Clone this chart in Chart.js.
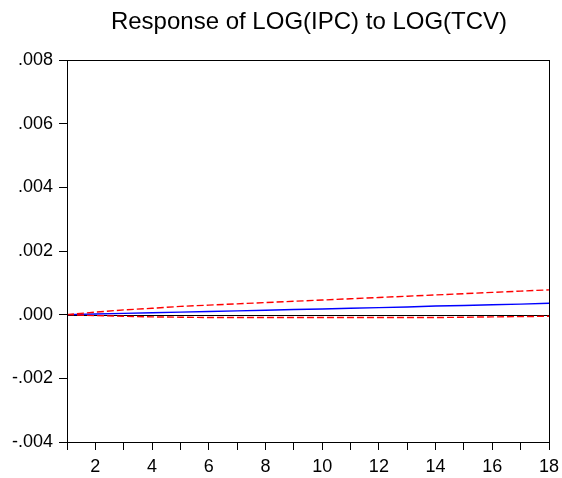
<!DOCTYPE html>
<html>
<head>
<meta charset="utf-8">
<script src="https://cdn.jsdelivr.net/npm/chart.js@4/dist/chart.umd.min.js"></script>
<style>
html,body{margin:0;padding:0;background:#fff;}
#wrap{width:562px;height:478px;}
</style>
</head>
<body>
<div id="wrap"><canvas id="c" width="562" height="478"></canvas></div>
<script>
const chartTitle = 'Response of LOG(IPC) to LOG(TCV)';
const periods = ['1','2','3','4','5','6','7','8','9','10','11','12','13','14','15','16','17','18'];
const response = [0, 0.00002, 0.00004, 0.00006, 0.00008, 0.00010, 0.00012, 0.00014, 0.00016, 0.00018, 0.00020, 0.00022, 0.00024, 0.00027, 0.00029, 0.00031, 0.00033, 0.00036];
const upperBand = [0, 0.00008, 0.00015, 0.00020, 0.00026, 0.00030, 0.00034, 0.00038, 0.00042, 0.00046, 0.00050, 0.00054, 0.00058, 0.00062, 0.00066, 0.00070, 0.00074, 0.00078];
const lowerBand = [0, -0.00003, -0.00005, -0.00007, -0.00008, -0.00009, -0.00009, -0.00009, -0.00009, -0.00009, -0.00009, -0.00009, -0.00009, -0.00009, -0.00008, -0.00007, -0.00006, -0.00005];
const yTickValues = [-0.004, -0.002, 0, 0.002, 0.004, 0.006, 0.008];

const FONT = 'Liberation Sans, Arial, Helvetica, sans-serif';

const framePlugin = {
  id: 'frame',
  beforeDatasetsDraw(chart) {
    const {ctx, chartArea: a, scales} = chart;
    const y0 = scales.y.getPixelForValue(0);
    ctx.save();
    ctx.strokeStyle = '#000';
    ctx.lineWidth = 1;
    ctx.beginPath();
    ctx.moveTo(a.left, Math.round(y0) + 0.5);
    ctx.lineTo(a.right, Math.round(y0) + 0.5);
    ctx.stroke();
    ctx.restore();
  },
  afterDatasetsDraw(chart) {
    const {ctx, chartArea: a} = chart;
    ctx.save();
    ctx.strokeStyle = '#000';
    ctx.lineWidth = 1;
    ctx.strokeRect(Math.round(a.left) + 0.5, Math.round(a.top) + 0.5, Math.round(a.right - a.left), Math.round(a.bottom - a.top));
    ctx.restore();
  },
  afterDraw(chart) {
    const {ctx, chartArea: a} = chart;
    ctx.save();
    ctx.fillStyle = '#000';
    ctx.font = '24px ' + FONT;
    ctx.textAlign = 'center';
    ctx.textBaseline = 'alphabetic';
    ctx.fillText(chartTitle, (a.left + a.right) / 2 + 1, 29);
    ctx.restore();
  }
};

new Chart(document.getElementById('c'), {
  type: 'line',
  data: {
    labels: periods,
    datasets: [
      {data: upperBand, borderColor: '#FF0000', borderWidth: 1.4, borderDash: [7, 3], pointRadius: 0, fill: false, tension: 0},
      {data: lowerBand, borderColor: '#FF0000', borderWidth: 1.4, borderDash: [7, 3], pointRadius: 0, fill: false, tension: 0},
      {data: response, borderColor: '#0000FF', borderWidth: 1.4, pointRadius: 0, fill: false, tension: 0}
    ]
  },
  options: {
    responsive: false,
    animation: false,
    devicePixelRatio: 1,
    layout: {padding: {top: 60, right: 13, left: 0, bottom: 0}},
    plugins: {legend: {display: false}, title: {display: false}, tooltip: {enabled: false}},
    scales: {
      x: {
        type: 'category',
        offset: false,
        grid: {display: true, drawOnChartArea: false, drawTicks: true, tickLength: 8, color: '#000', lineWidth: 1},
        border: {display: true, color: '#000', width: 1},
        ticks: {
          autoSkip: false, maxRotation: 0, color: '#000', padding: 6,
          font: {family: FONT, size: 18},
          callback: function(v, i) { const l = periods[i]; return (Number(l) % 2 === 0) ? l : ''; }
        },
        afterFit(s) { s.height = 36; s.paddingLeft = 0; s.paddingRight = 0; }
      },
      y: {
        min: -0.004, max: 0.008,
        grid: {display: true, drawOnChartArea: false, drawTicks: true, tickLength: 8, color: '#000', lineWidth: 1},
        border: {display: true, color: '#000', width: 1},
        afterBuildTicks(s) { s.ticks = yTickValues.map(v => ({value: v})); },
        ticks: {
          color: '#000', padding: 6,
          font: {family: FONT, size: 18},
          callback: function(v) {
            const r = Math.round(v * 1000) / 1000;
            let s = Math.abs(r).toFixed(3).replace(/^0/, '');
            return (r < 0 ? '-' : '') + s;
          }
        },
        afterFit(s) { s.width = 67; s.paddingTop = 0; s.paddingBottom = 0; }
      }
    }
  },
  plugins: [framePlugin]
});
</script>
</body>
</html>
